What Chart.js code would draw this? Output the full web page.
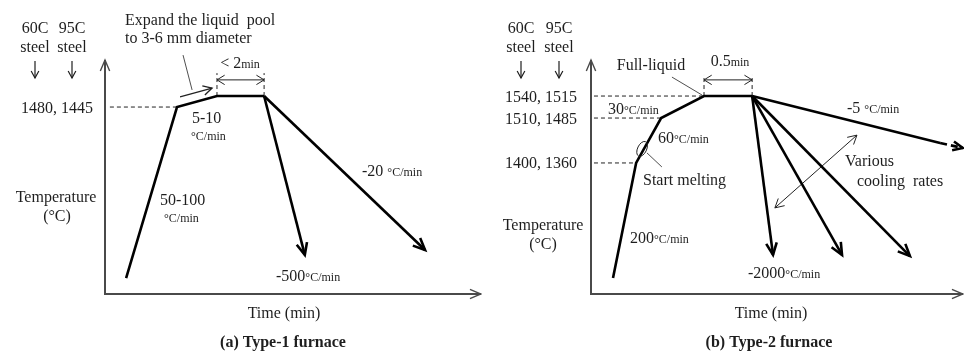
<!DOCTYPE html>
<html>
<head>
<meta charset="utf-8">
<script src="https://cdn.jsdelivr.net/npm/chart.js@4.4.1/dist/chart.umd.min.js"></script>
<style>
  body { margin: 0; background: #fff; }
  #wrap { position: relative; width: 964px; height: 354px; }
  canvas { position: absolute; top: 0; }
  #type1 { left: 0; }
  #type2 { left: 482px; }
</style>
</head>
<body>
<div id="wrap">
  <canvas id="type1" width="482" height="354"></canvas>
  <canvas id="type2" width="482" height="354"></canvas>
</div>
<script>
// schematic units: time 0-100 along the axis, temperature 0-100 up the axis

// (a) Type-1 furnace
const heatTimeA = [5.6, 19.1, 29.7, 42.2];
const heatTempA = [6.8, 79.9, 84.6, 84.6];
const coolTimeA = [53.0, 84.9]; // -500, -20 C/min
const coolTempA = [16.7, 18.8];
const levelTempA = [79.9];
const levelLabelA = ['1480, 1445'];

// (b) Type-2 furnace
const heatTimeB = [5.9, 12.1, 18.8, 30.3, 43.2];
const heatTempB = [6.8, 56.0, 75.2, 84.6, 84.6];
const coolTimeB = [48.8, 67.3, 85.5]; // -2000 ... various rates
const coolTempB = [16.7, 16.7, 16.2];
const slowTimeB = [93.6, 99.7]; // -5 C/min, solid then dashed
const slowTempB = [64.5, 62.4];
const levelTempB = [84.6, 75.2, 56.0];
const levelLabelB = ['1540, 1515', '1510, 1485', '1400, 1360'];

const FONT = "'Liberation Serif', 'Times New Roman', serif";
const INK = '#1e1e1e';

function line(xs, ys, extra) {
  return Object.assign({
    data: xs.map((x, i) => ({ x: x, y: ys[i] })),
    borderColor: '#000',
    borderWidth: 2.6,
    pointRadius: 0,
    showLine: true,
    fill: false,
    tension: 0,
    clip: false,
  }, extra || {});
}

function guide(xs, ys) {
  return line(xs, ys, { borderWidth: 1, borderColor: '#222', borderDash: [4, 3] });
}

function thin(xs, ys, extra) {
  return line(xs, ys, Object.assign({ borderWidth: 1, borderColor: '#222' }, extra || {}));
}

function drawHead(ctx, tip, from, len, spread) {
  const a = Math.atan2(tip.y - from.y, tip.x - from.x);
  ctx.beginPath();
  ctx.moveTo(tip.x - len * Math.cos(a - spread), tip.y - len * Math.sin(a - spread));
  ctx.lineTo(tip.x, tip.y);
  ctx.lineTo(tip.x - len * Math.cos(a + spread), tip.y - len * Math.sin(a + spread));
  ctx.stroke();
}

const arrowPlugin = {
  id: 'arrows',
  afterDatasetsDraw(chart) {
    const ctx = chart.ctx;
    chart.data.datasets.forEach((ds, i) => {
      if (!ds.arrowEnd && !ds.arrowStart) return;
      const pts = chart.getDatasetMeta(i).data;
      ctx.save();
      ctx.strokeStyle = ds.borderColor;
      ctx.lineWidth = ds.borderWidth;
      ctx.lineJoin = 'miter';
      const len = ds.headLen || 13;
      const spread = ds.headSpread || 0.42;
      if (ds.arrowEnd) drawHead(ctx, pts[pts.length - 1], pts[pts.length - 2], len, spread);
      if (ds.arrowStart) drawHead(ctx, pts[0], pts[1], len, spread);
      ctx.restore();
    });
  },
};

const axesPlugin = {
  id: 'axesArrows',
  beforeDatasetsDraw(chart) {
    const ctx = chart.ctx;
    const x = chart.scales.x;
    const y = chart.scales.y;
    const x0 = x.getPixelForValue(0);
    const y0 = y.getPixelForValue(0);
    const top = y.getPixelForValue(100);
    const right = x.getPixelForValue(100) - 1;
    ctx.save();
    ctx.strokeStyle = '#4a4a4a';
    ctx.lineWidth = 2;
    ctx.beginPath();
    ctx.moveTo(x0, top);
    ctx.lineTo(x0, y0);
    ctx.lineTo(right, y0);
    ctx.stroke();
    ctx.lineWidth = 1.4;
    drawHead(ctx, { x: x0, y: top }, { x: x0, y: y0 }, 12, 0.4);
    drawHead(ctx, { x: right, y: y0 }, { x: x0, y: y0 }, 12, 0.4);
    ctx.restore();
  },
};

// parts: [text, size, bold]
function runs(ctx, x, y, parts, align) {
  ctx.textBaseline = 'alphabetic';
  ctx.fillStyle = INK;
  let total = 0;
  parts.forEach((p) => {
    ctx.font = (p[2] ? 'bold ' : '') + p[1] + 'px ' + FONT;
    total += ctx.measureText(p[0]).width;
  });
  let cx = align === 'center' ? x - total / 2 : align === 'right' ? x - total : x;
  parts.forEach((p) => {
    ctx.font = (p[2] ? 'bold ' : '') + p[1] + 'px ' + FONT;
    ctx.textAlign = 'left';
    ctx.fillText(p[0], cx, y);
    cx += ctx.measureText(p[0]).width;
  });
}

function text(ctx, str, x, y, align, size, bold) {
  runs(ctx, x, y, [[str, size || 16, bold]], align || 'left');
}

function steelHeader(ctx, left, right) {
  text(ctx, '60C', left, 33, 'center');
  text(ctx, '95C', right, 33, 'center');
  text(ctx, 'steel', left, 52, 'center');
  text(ctx, 'steel', right, 52, 'center');
  ctx.save();
  ctx.strokeStyle = INK;
  ctx.lineWidth = 1.2;
  [left, right].forEach((cx) => {
    ctx.beginPath();
    ctx.moveTo(cx, 61);
    ctx.lineTo(cx, 78);
    ctx.stroke();
    drawHead(ctx, { x: cx, y: 78 }, { x: cx, y: 61 }, 8, 0.5);
  });
  ctx.restore();
}

function levelLabels(chart, temps, labels, right) {
  const y = chart.scales.y;
  temps.forEach((t, i) => {
    text(chart.ctx, labels[i], right, y.getPixelForValue(t) + 5.5, 'right');
  });
}

function baseOptions(padLeft) {
  return {
    responsive: false,
    animation: false,
    layout: { padding: { left: padLeft, right: 0, top: 60, bottom: 60 } },
    plugins: { legend: { display: false }, tooltip: { enabled: false } },
    scales: {
      x: { type: 'linear', min: 0, max: 100, display: false },
      y: { type: 'linear', min: 0, max: 100, display: false },
    },
  };
}

// ---------- (a) ----------
const holdStartA = heatTimeA[2];
const holdEndA = heatTimeA[3];
const holdTempA = heatTempA[3];

const datasetsA = [
  line(heatTimeA, heatTempA),
  line([holdEndA, coolTimeA[0]], [holdTempA, coolTempA[0]], { arrowEnd: true }),
  line([holdEndA, coolTimeA[1]], [holdTempA, coolTempA[1]], { arrowEnd: true }),
  guide([1.3, heatTimeA[1]], [levelTempA[0], levelTempA[0]]),
  guide([holdStartA, holdStartA], [holdTempA, 94.4]),
  guide([holdEndA, holdEndA], [holdTempA, 94.4]),
  thin([holdStartA, holdEndA], [91.5, 91.5], { arrowStart: true, arrowEnd: true, headLen: 9, headSpread: 0.55 }),
  thin([20.7, 23.1], [102.1, 87.2], { borderWidth: 0.8 }),
  thin([19.9, 28.4], [84.2, 88.0], { borderWidth: 1.3, arrowEnd: true, headLen: 10, headSpread: 0.5 }),
];

const textPluginA = {
  id: 'textA',
  afterDraw(chart) {
    const ctx = chart.ctx;
    steelHeader(ctx, 35, 72);
    levelLabels(chart, levelTempA, levelLabelA, 93);
    text(ctx, 'Expand the liquid  pool', 125, 25);
    text(ctx, 'to 3-6 mm diameter', 125, 43);
    runs(ctx, 240, 68, [['< 2', 16], ['min', 12]], 'center');
    text(ctx, '5-10', 192, 123);
    text(ctx, '°C/min', 191, 140, 'left', 12);
    text(ctx, '50-100', 160, 205);
    text(ctx, '°C/min', 164, 222, 'left', 12);
    runs(ctx, 362, 176, [['-20 ', 16], ['°C/min', 12]], 'left');
    runs(ctx, 276, 281, [['-500', 16], ['°C/min', 12]], 'left');
    text(ctx, 'Temperature', 56, 202, 'center');
    text(ctx, '(°C)', 57, 221, 'center');
    text(ctx, 'Time (min)', 284, 318, 'center');
    text(ctx, '(a) Type-1 furnace', 283, 347, 'center', 16, true);
  },
};

new Chart(document.getElementById('type1'), {
  type: 'scatter',
  data: { datasets: datasetsA },
  options: baseOptions(105),
  plugins: [axesPlugin, arrowPlugin, textPluginA],
});

// ---------- (b) ----------
const holdStartB = heatTimeB[3];
const holdEndB = heatTimeB[4];
const holdTempB = heatTempB[4];

const datasetsB = [
  line(heatTimeB, heatTempB),
  ...coolTimeB.map((t, i) =>
    line([holdEndB, t], [holdTempB, coolTempB[i]], { arrowEnd: true })
  ),
  line([holdEndB].concat(slowTimeB), [holdTempB].concat(slowTempB), {
    arrowEnd: true,
    headLen: 11,
    segment: { borderDash: (c) => (c.p0DataIndex === 1 ? [7, 4] : undefined) },
  }),
  ...levelTempB.map((t) =>
    guide([0.8, heatTimeB[heatTempB.indexOf(t)]], [t, t])
  ),
  guide([holdStartB, holdStartB], [holdTempB, 93.6]),
  guide([holdEndB, holdEndB], [holdTempB, 93.6]),
  thin([holdStartB, holdEndB], [91.5, 91.5], { arrowStart: true, arrowEnd: true, headLen: 9, headSpread: 0.55 }),
  thin([21.7, 29.8], [92.7, 85.0], { borderWidth: 0.8 }),
  thin([15.0, 19.0], [60.3, 54.3], { borderWidth: 0.8 }),
  thin([49.3, 71.3], [36.8, 67.9], { arrowStart: true, arrowEnd: true, headLen: 10, headSpread: 0.5 }),
];

const textPluginB = {
  id: 'textB',
  afterDraw(chart) {
    const ctx = chart.ctx;
    // circle marking start of melting
    ctx.save();
    ctx.strokeStyle = '#222';
    ctx.lineWidth = 1;
    ctx.beginPath();
    ctx.ellipse(chart.scales.x.getPixelForValue(13.7), chart.scales.y.getPixelForValue(62), 4.5, 8, 0.45, 0, Math.PI * 2);
    ctx.stroke();
    ctx.restore();

    steelHeader(ctx, 39, 77);
    levelLabels(chart, levelTempB, levelLabelB, 95);
    text(ctx, 'Full-liquid', 169, 70, 'center');
    runs(ctx, 248, 66, [['0.5', 16], ['min', 12]], 'center');
    runs(ctx, 126, 114, [['30', 16], ['°C/min', 12]], 'left');
    runs(ctx, 176, 143, [['60', 16], ['°C/min', 12]], 'left');
    text(ctx, 'Start melting', 161, 185);
    text(ctx, 'Temperature', 61, 230, 'center');
    text(ctx, '(°C)', 61, 249, 'center');
    runs(ctx, 148, 243, [['200', 16], ['°C/min', 12]], 'left');
    runs(ctx, 266, 278, [['-2000', 16], ['°C/min', 12]], 'left');
    text(ctx, 'Various', 363, 166);
    text(ctx, 'cooling  rates', 375, 186);
    runs(ctx, 365, 113, [['-5 ', 16], ['°C/min', 12]], 'left');
    text(ctx, 'Time (min)', 289, 318, 'center');
    text(ctx, '(b) Type-2 furnace', 287, 347, 'center', 16, true);
  },
};

new Chart(document.getElementById('type2'), {
  type: 'scatter',
  data: { datasets: datasetsB },
  options: baseOptions(109),
  plugins: [axesPlugin, arrowPlugin, textPluginB],
});
</script>
</body>
</html>
